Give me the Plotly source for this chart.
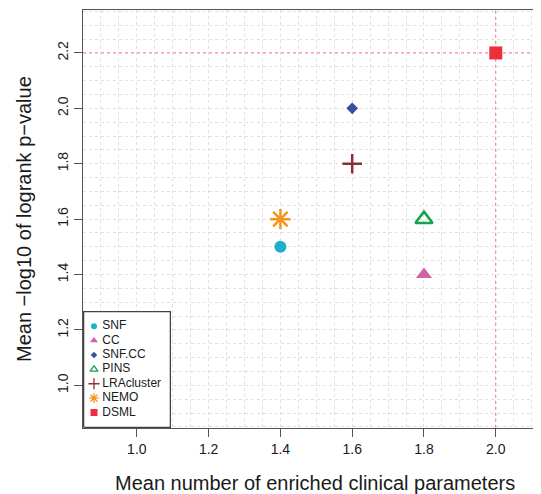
import plotly.graph_objects as go

# ---- data ----
methods = ["SNF", "CC", "SNF.CC", "PINS", "LRAcluster", "NEMO", "DSML"]
mean_enriched = [1.4, 1.8, 1.6, 1.8, 1.6, 1.4, 2.0]
mean_logp = [1.5, 1.4, 2.0, 1.6, 1.8, 1.6, 2.2]
colors = ["#1CB0CD", "#CF62A8", "#3A4F9F", "#13A24B", "#8E2E38", "#F7941E", "#EE2F3B"]
symbols = ["circle", "triangle-up", "diamond", "triangle-up-open",
           "cross-thin-open", "asterisk-open", "square"]
sizes = [12, 14, 9, 15, 14, 17, 13]
leg_sizes = [6, 7, 5, 7, 8, 8, 7]
line_w = [0, 0, 0, 2.5, 2.5, 2.5, 0]
best_x = 2.0
best_y = 2.2
x_range = [0.850, 2.126]
y_range = [0.846, 2.355]

# page has an 8px body margin: figure placed at (8, 8)
OFF = 8
W, H = 541 - OFF, 494 - OFF
ML, MR, MT, MB = 83 - OFF, 0, 10 - OFF, 66
PW, PH = W - ML - MR, H - MT - MB

def px2paper_x(px):  # px in page coordinates
    return (px - OFF - ML) / PW

def px2paper_y(py):
    return (H - MB - (py - OFF)) / PH

fig = go.Figure()

# reference lines through the best method
ref_line = dict(color="#F27C86", width=1, dash="dot")
fig.add_trace(go.Scatter(x=[best_x, best_x], y=y_range, mode="lines", line=ref_line,
                         showlegend=False, hoverinfo="skip", xaxis="x", yaxis="y"))
fig.add_trace(go.Scatter(x=x_range, y=[best_y, best_y], mode="lines", line=ref_line,
                         showlegend=False, hoverinfo="skip", xaxis="x", yaxis="y"))

for i, m in enumerate(methods):
    fig.add_trace(go.Scatter(
        x=[mean_enriched[i]], y=[mean_logp[i]], mode="markers", name=m,
        marker=dict(symbol=symbols[i], size=sizes[i], color=colors[i],
                    line=dict(width=line_w[i], color=colors[i])),
        showlegend=False, xaxis="x", yaxis="y"))

# hand-built legend in its own small axes
leg_x0, leg_x1, leg_y0, leg_y1 = 83, 171, 311, 428
row_h = 14.55
first_c = 325.7
y2_top = -(first_c - leg_y0) / row_h
y2_bot = (leg_y1 - first_c) / row_h
bw = leg_x1 - leg_x0

fig.add_trace(go.Scatter(
    x=[0, bw, bw, 0, 0], y=[y2_bot, y2_bot, y2_top, y2_top, y2_bot],
    mode="lines", fill="toself", fillcolor="white",
    line=dict(color="#444444", width=1.3),
    showlegend=False, xaxis="x2", yaxis="y2", hoverinfo="skip"))
for i, m in enumerate(methods):
    fig.add_trace(go.Scatter(
        x=[10.5], y=[i], mode="markers",
        marker=dict(symbol=symbols[i], size=leg_sizes[i], color=colors[i],
                    line=dict(width=min(line_w[i], 1.3), color=colors[i])),
        showlegend=False, xaxis="x2", yaxis="y2", hoverinfo="skip"))
fig.add_trace(go.Scatter(
    x=[19] * len(methods), y=list(range(len(methods))), mode="text",
    text=methods, textposition="middle right",
    textfont=dict(family="Liberation Sans, Arial", size=12, color="#1a1a1a"),
    showlegend=False, xaxis="x2", yaxis="y2", hoverinfo="skip"))

GRID = "#E0E0E0"
axis_common = dict(
    showline=True, linecolor="#555555", linewidth=1.3,
    ticks="outside", ticklen=8, tickcolor="#555555", tickwidth=1.3,
    tickformat=".1f", zeroline=False, automargin=False,
    tickfont=dict(family="Liberation Sans, Arial", size=14, color="#1a1a1a"),
    showgrid=True, gridcolor=GRID, griddash="dot", gridwidth=1,
    minor=dict(tick0=0, dtick=0.05, showgrid=True, gridcolor=GRID,
               griddash="dot", gridwidth=1))

fig.update_layout(
    width=W, height=H,
    margin=dict(l=ML, r=MR, t=MT, b=MB),
    paper_bgcolor="white", plot_bgcolor="white",
    xaxis=dict(range=x_range, tick0=0, dtick=0.2, mirror=True, **axis_common),
    yaxis=dict(range=y_range, tick0=0, dtick=0.2, tickangle=-90, **axis_common),
    xaxis2=dict(domain=[px2paper_x(leg_x0), px2paper_x(leg_x1)], range=[-0.65, bw + 0.65],
                anchor="y2", visible=False, fixedrange=True),
    yaxis2=dict(domain=[px2paper_y(leg_y1), px2paper_y(leg_y0)],
                range=[y2_bot + 0.045, y2_top - 0.045],
                anchor="x2", visible=False, fixedrange=True),
    annotations=[
        dict(text="Mean number of enriched clinical parameters", xref="paper", yref="paper",
             x=px2paper_x(315), y=0, yshift=-55, showarrow=False, yanchor="middle",
             font=dict(family="Liberation Sans, Arial", size=20, color="#1a1a1a")),
        dict(text="Mean \u2212log10 of logrank p\u2212value", xref="paper", yref="paper",
             x=0, xshift=(24 - OFF) - ML, y=0.5, showarrow=False, textangle=-90,
             xanchor="center", yanchor="middle",
             font=dict(family="Liberation Sans, Arial", size=20, color="#1a1a1a")),
    ],
)

fig.write_html("out.html")
